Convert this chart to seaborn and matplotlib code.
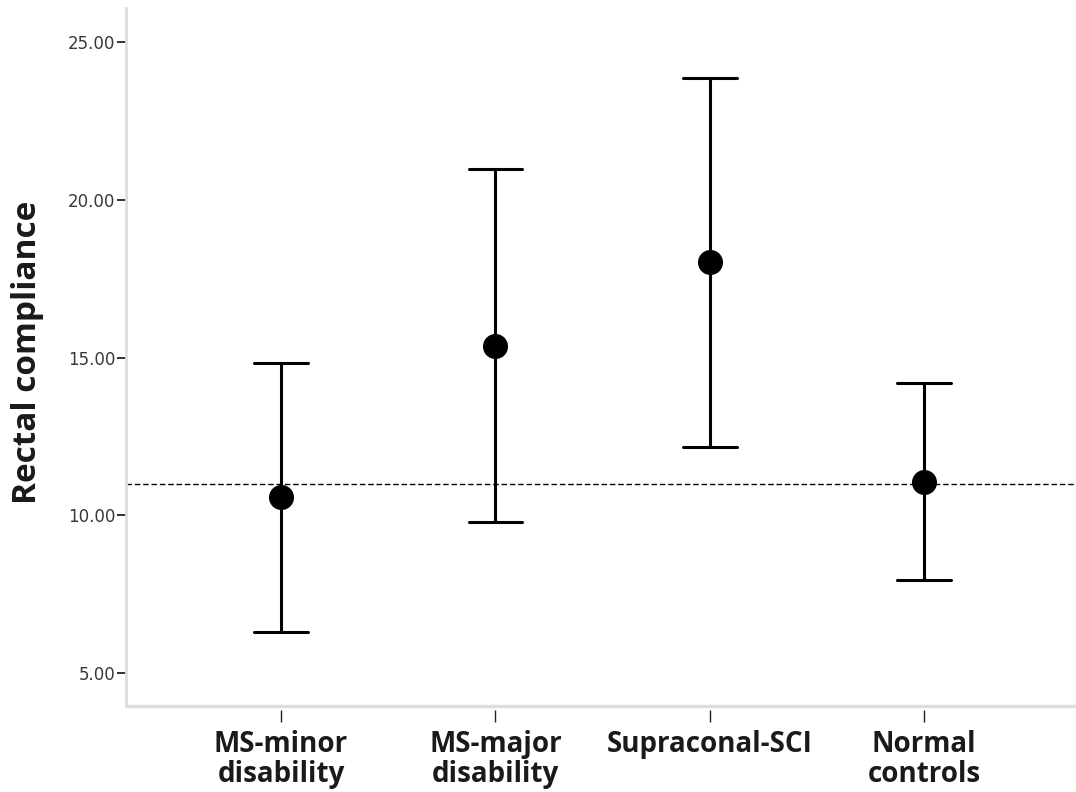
import numpy as np
import pandas as pd
import matplotlib.pyplot as plt
import seaborn as sns

# Values (mean with lower/upper error bar limits)
groups = ['MS-minor\ndisability', 'MS-major\ndisability', 'Supraconal-SCI', 'Normal\ncontrols']
means = [10.58, 15.38, 18.04, 11.07]
lower = [6.32, 9.78, 12.18, 7.96]
upper = [14.83, 21.00, 23.86, 14.21]
reference_level = 11.0
y_ticks = [5, 10, 15, 20, 25]

sns.set_theme(style='white')
plt.rcParams['font.family'] = ['DejaVu Sans']

# long form: three rows per group, median = mean, min/max = bar limits
rows = []
for g, lo, m, hi in zip(groups, lower, means, upper):
    for v in (lo, m, hi):
        rows.append({'group': g, 'value': v})
df = pd.DataFrame(rows)

fig = plt.figure(figsize=(10.76, 7.92), dpi=100)
ax = fig.add_axes([0.1171, 0.1086, 0.8829, 0.8813])

# ticks sit a little below the gray baseline (set before labels, it resets ticks)
ax.spines['bottom'].set_position(('outward', 3))
ax.spines['bottom'].set_visible(False)

sns.pointplot(data=df, x='group', y='value', order=groups,
              estimator='median', errorbar=lambda v: (v.min(), v.max()),
              color='black', linestyle='none', markers='o', markersize=16,
              capsize=0.25, err_kws={'linewidth': 2.2}, ax=ax)

ax.axhline(reference_level, color='black', linestyle=(0, (4, 2)), linewidth=1.0, zorder=0)

ax.set_xlim(-0.723, 3.708)
ax.set_ylim(3.96, 26.09)
ax.set_yticks(y_ticks)
ax.set_yticklabels([f'{t:.2f}' for t in y_ticks], fontsize=12, color='#383838')
ax.set_xticks(range(len(groups)))
ax.set_xticklabels(groups, fontsize=20, fontweight='bold', family='Open Sans',
                   color='#1a1a1a', linespacing=1.05)

ax.set_xlabel('')
ax.set_ylabel('Rectal compliance', fontsize=24, fontweight='bold',
              family='Open Sans', color='#1a1a1a')
ax.yaxis.set_label_coords(-0.086, 0.507)

for side in ['top', 'right']:
    ax.spines[side].set_visible(False)
ax.spines['left'].set_color('#dddddd')
ax.spines['left'].set_linewidth(2)
ax.axhline(3.96, color='#dddddd', linewidth=2.5, clip_on=False, zorder=1)

ax.tick_params(axis='y', direction='out', length=6.5, width=1.3, color='#222222',
               left=True, pad=1)
ax.tick_params(axis='x', direction='out', length=8.5, width=1.0, color='#222222',
               bottom=True, pad=6)

plt.savefig('out.png', dpi=100)
plt.close()
